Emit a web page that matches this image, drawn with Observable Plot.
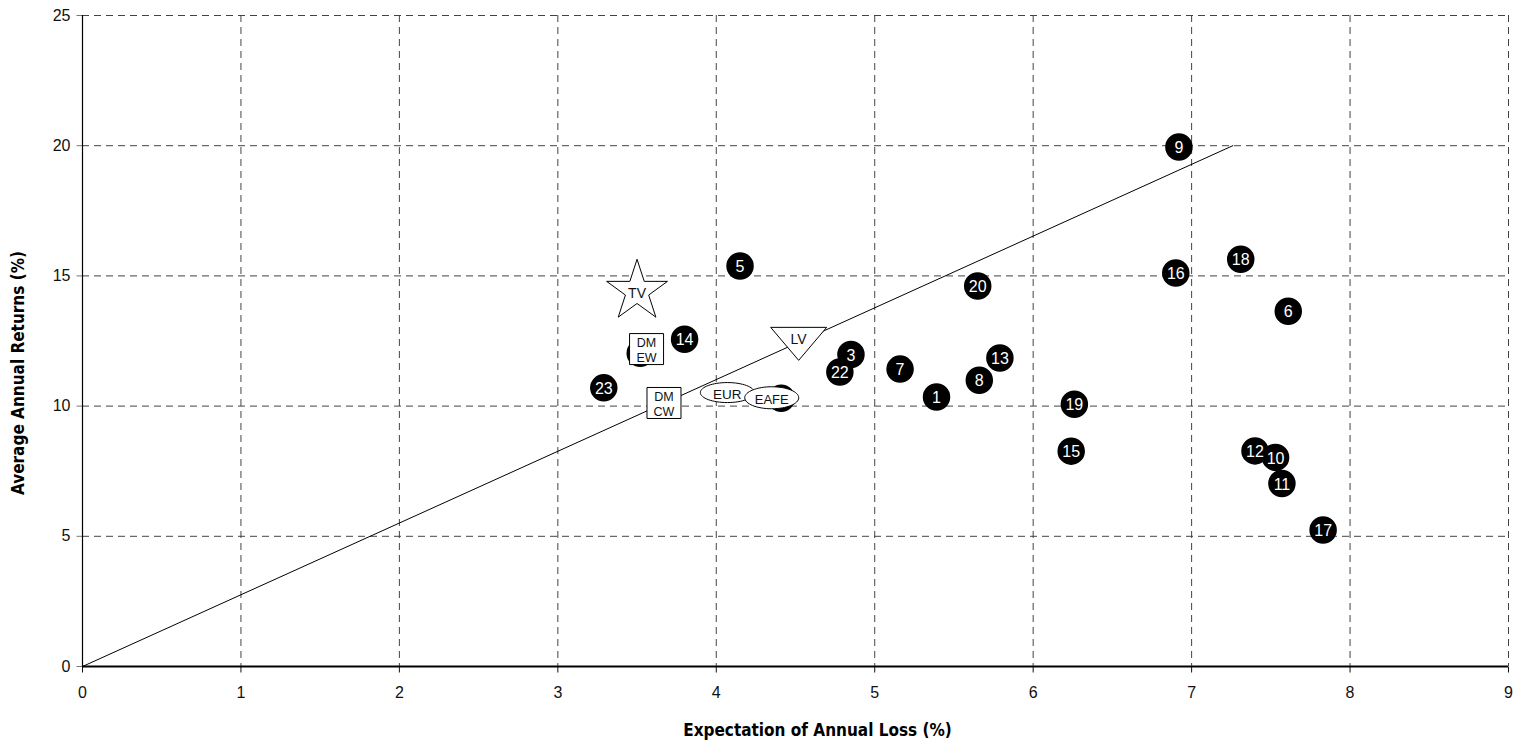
<!DOCTYPE html>
<html>
<head>
<meta charset="utf-8">
<script src="https://cdn.jsdelivr.net/npm/d3@7"></script>
<script src="https://cdn.jsdelivr.net/npm/@observablehq/plot@0.6"></script>
<style>
  html, body { margin: 0; padding: 0; background: #fff; }
  #chart svg { display: block; }
</style>
</head>
<body>
<div id="chart"></div>
<script>
// Numbered strategies
const ptId = ["1","3","5","6","7","8","9","10","11","12","13","14","15","16","17","18","19","20","22","23"];
const ptX  = [5.39, 4.85, 4.15, 7.61, 5.16, 5.66, 6.92, 7.53, 7.57, 7.40, 5.79, 3.80, 6.24, 6.90, 7.83, 7.31, 6.26, 5.65, 4.78, 3.29];
const ptY  = [10.35, 11.98, 15.38, 13.64, 11.42, 10.99, 19.95, 8.03, 7.03, 8.28, 11.85, 12.57, 8.27, 15.11, 5.24, 15.64, 10.07, 14.61, 11.31, 10.70];

// Strategies hidden behind benchmark markers (labels not visible)
const hidX = [3.52, 4.41];
const hidY = [12.03, 10.30];

// Benchmarks
const benchName = ["TV", "LV", "DM\nEW", "DM\nCW", "EUR", "EAFE"];
const benchX    = [3.50, 4.52, 3.56, 3.67, 4.07, 4.35];
const benchY    = [14.41, 12.64, 12.19, 10.12, 10.52, 10.32];

// Fitted line
const lineX = [0, 7.26];
const lineY = [0, 20];

// Axes ticks
const xTicks = [0, 1, 2, 3, 4, 5, 6, 7, 8, 9];
const yTicks = [0, 5, 10, 15, 20, 25];
const xGrid = [1, 2, 3, 4, 5, 6, 7, 8, 9];
const yGrid = [5, 10, 15, 20, 25];

// custom symbols
function rectSym(w, h) {
  return {draw(c) { c.moveTo(-w/2, -h/2); c.lineTo(w/2, -h/2); c.lineTo(w/2, h/2); c.lineTo(-w/2, h/2); c.closePath(); }};
}
function ellipseSym(rx, ry) {
  const k = 0.5522847;
  return {draw(c) {
    c.moveTo(rx, 0);
    c.bezierCurveTo(rx, ry*k, rx*k, ry, 0, ry);
    c.bezierCurveTo(-rx*k, ry, -rx, ry*k, -rx, 0);
    c.bezierCurveTo(-rx, -ry*k, -rx*k, -ry, 0, -ry);
    c.bezierCurveTo(rx*k, -ry, rx, -ry*k, rx, 0);
    c.closePath();
  }};
}
function starSym(R) {
  const r = R * 0.382;
  return {draw(c) {
    for (let i = 0; i < 10; i++) {
      const a = -Math.PI/2 + i * Math.PI/5;
      const rr = i % 2 ? r : R;
      const px = rr * Math.cos(a), py = rr * Math.sin(a);
      if (i === 0) c.moveTo(px, py); else c.lineTo(px, py);
    }
    c.closePath();
  }};
}
function triDownSym() {
  return {draw(c) { c.moveTo(-28, -10); c.lineTo(28, -10); c.lineTo(0, 23); c.closePath(); }};
}
const tickDown = {draw(c) { c.moveTo(0, 0); c.lineTo(0, 6); }};
const tickLeft = {draw(c) { c.moveTo(0, 0); c.lineTo(-6, 0); }};
const shapes = {
  "TV": starSym(32),
  "LV": triDownSym(),
  "DM\nEW": rectSym(34, 31),
  "DM\nCW": rectSym(34, 31),
  "EUR": ellipseSym(27, 10),
  "EAFE": ellipseSym(27, 11)
};
const labelSize = {"TV": 14, "LV": 14, "DM\nEW": 12.5, "DM\nCW": 12.5, "EUR": 13.5, "EAFE": 13};

const baseFont = "'Liberation Sans', Arial, sans-serif";
const titleFont = "'Liberation Sans Narrow', 'DejaVu Sans Condensed', 'Arial Narrow', sans-serif";
const idx = benchName.map((_, i) => i);

const chart = Plot.plot({
  width: 1528,
  height: 746,
  marginLeft: 82,
  marginRight: 20,
  marginTop: 15,
  marginBottom: 80,
  x: {domain: [0, 9], axis: null},
  y: {domain: [0, 25], axis: null},
  style: {fontFamily: baseFont, fontSize: "16px", background: "#fff", color: "#111", overflow: "visible"},
  marks: [
    Plot.ruleX(xGrid, {stroke: "#444", strokeWidth: 1, strokeDasharray: "7,5"}),
    Plot.ruleY(yGrid, {stroke: "#444", strokeWidth: 1, strokeDasharray: "7,5"}),
    // y axis ticks & labels
    Plot.dot(yTicks, {x: () => 0, y: d => d, symbol: tickLeft, stroke: "#777", fill: "none", strokeWidth: 1}),
    Plot.text(yTicks, {x: () => 0, y: d => d, text: d => String(d), textAnchor: "end", dx: -12, fontSize: 16, fill: "#111", fontFamily: baseFont}),
    // x axis ticks & labels
    Plot.dot(xTicks, {x: d => d, y: () => 0, symbol: tickDown, stroke: "#111", fill: "none", strokeWidth: 1}),
    Plot.text(xTicks, {x: d => d, y: () => 0, text: d => String(d), lineAnchor: "top", dy: 20, fontSize: 16, fill: "#111", fontFamily: baseFont}),
    Plot.ruleX([0], {stroke: "#000", strokeWidth: 1.2}),
    Plot.ruleY([0], {stroke: "#000", strokeWidth: 2.2}),
    Plot.line(lineX.map((x, i) => ({x, y: lineY[i]})), {x: "x", y: "y", stroke: "#000", strokeWidth: 1}),
    Plot.dot(hidX.map((_, i) => i), {x: i => hidX[i], y: i => hidY[i], r: 13, fill: "#000", stroke: "#000"}),
    Plot.dot(ptId.map((_, i) => i), {x: i => ptX[i], y: i => ptY[i], r: 13, fill: "#000", stroke: "#000"}),
    Plot.text(ptId.map((_, i) => i), {x: i => ptX[i], y: i => ptY[i], text: i => ptId[i], fill: "#fff", fontSize: 16, dy: 1}),
    ...idx.map(i => Plot.dot([i], {x: j => benchX[j], y: j => benchY[j], symbol: shapes[benchName[i]], fill: "#fff", stroke: "#000", strokeWidth: 1})),
    ...idx.map(i => Plot.text([i], {x: j => benchX[j], y: j => benchY[j], text: j => benchName[j], fill: "#111", fontSize: labelSize[benchName[i]], lineHeight: 1.2, dy: 1})),
    Plot.text(["Expectation of Annual Loss (%)"], {frameAnchor: "bottom", dx: 22, dy: 69, fontWeight: "bold", fontSize: 17, fontFamily: titleFont, fill: "#000"}),
    Plot.text(["Average Annual Returns (%)"], {frameAnchor: "left", textAnchor: "middle", dx: -64, dy: 32, rotate: -90, fontWeight: "bold", fontSize: 17, fontFamily: titleFont, fill: "#000"})
  ]
});
document.getElementById("chart").appendChild(chart);
</script>
</body>
</html>
